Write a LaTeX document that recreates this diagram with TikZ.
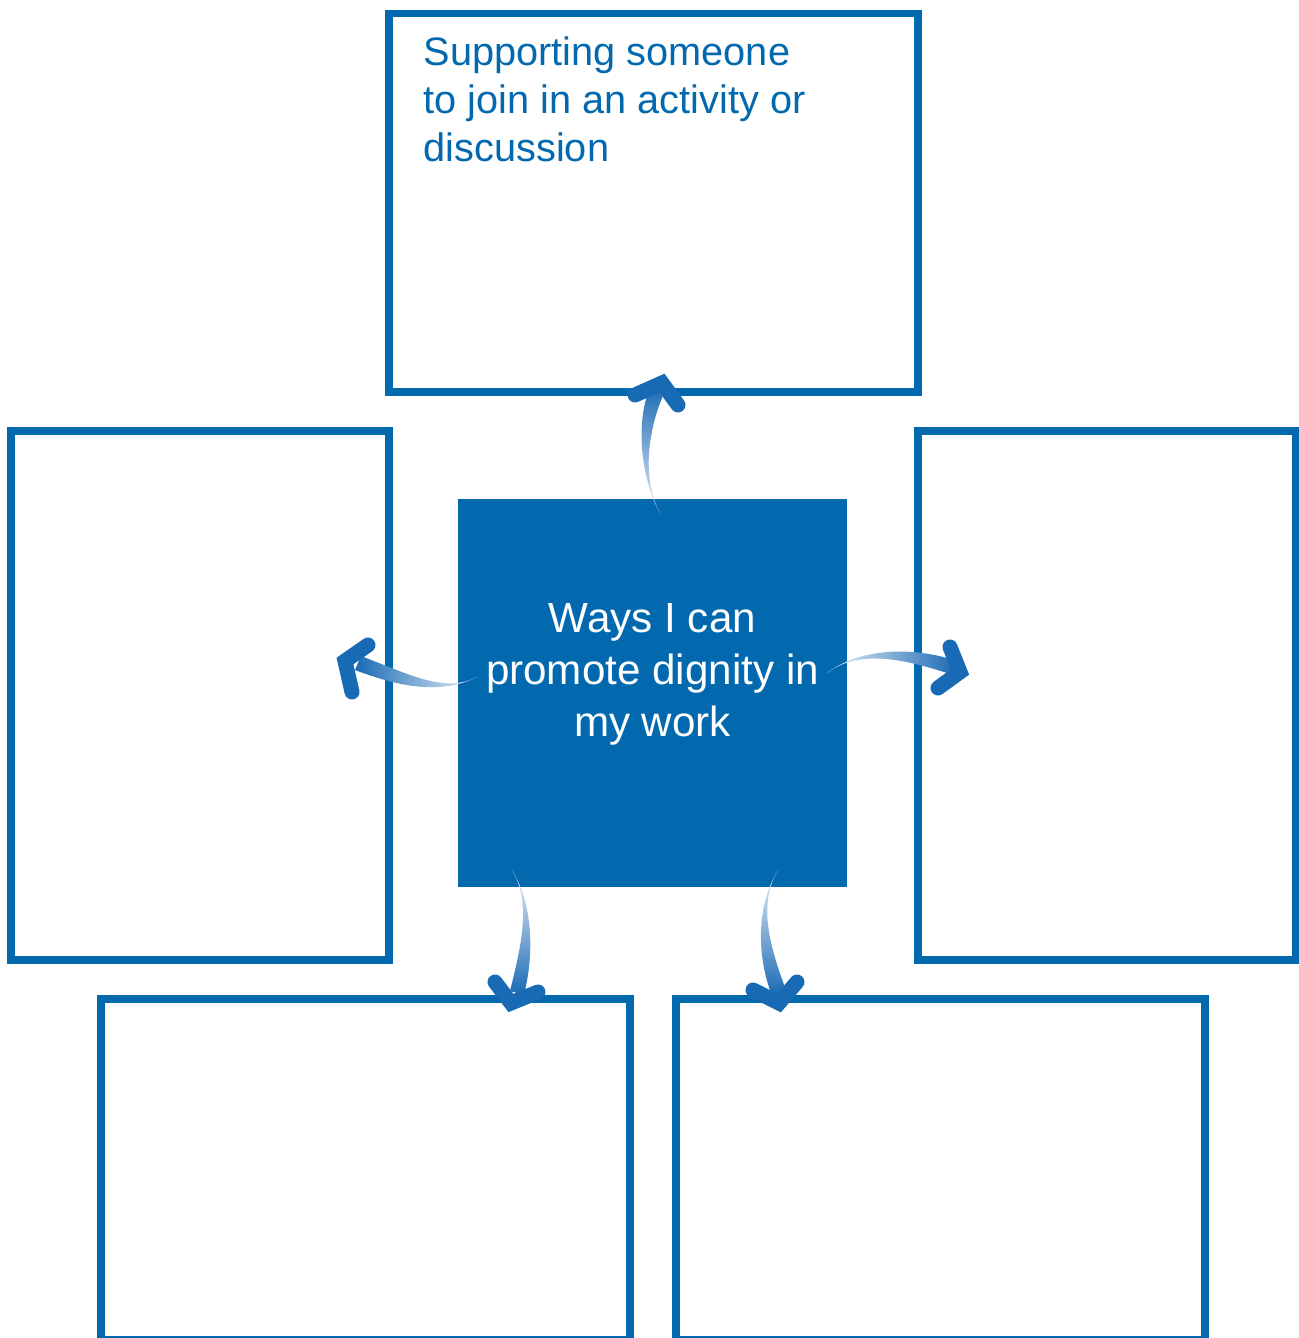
\documentclass[tikz,border=0pt]{standalone}
\usepackage{fontspec}
\setmainfont{Liberation Sans}
\usetikzlibrary{calc}
\definecolor{dignity}{RGB}{3,105,175}
\definecolor{arrowblue}{RGB}{25,106,180}
\definecolor{arrowpale}{RGB}{234,239,248}
\tikzset{
  answer/.style={draw=dignity, line width=0.075cm, fill=white, inner sep=0pt},
  hubbox/.style={fill=dignity, inner sep=0pt, minimum width=3.89cm, minimum height=3.88cm},
  arrowhead/.style={draw=arrowblue, line width=0.15cm, line cap=round, line join=miter},
}

\begin{document}
\begin{tikzpicture}
\useasboundingbox (0,0) rectangle (12.99,13.38);
\node[answer, minimum width=5.29cm, minimum height=3.785cm] (topbox) at (6.535,11.3525) {};
\node[answer, minimum width=3.78cm, minimum height=5.29cm] (leftbox) at (2.00,6.425) {};
\node[answer, minimum width=3.775cm, minimum height=5.29cm] (rightbox) at (11.0675,6.425) {};
\node[answer, minimum width=5.29cm, minimum height=3.41cm] (lowleftbox) at (3.655,1.685) {};
\node[answer, minimum width=5.29cm, minimum height=3.41cm] (lowrightbox) at (9.405,1.685) {};
\node[hubbox] (hub) at (6.525,6.45) {};
\node[anchor=north west, inner sep=0pt, align=left, text=dignity,
  font=\fontsize{11.3pt}{13.6pt}\selectfont] (toptext) at (4.23,13.02)
  {Supporting someone\\to join in an activity or\\discussion};
\node[anchor=north, inner sep=0pt, align=center, text=white,
  font=\fontsize{12pt}{14.7pt}\selectfont] (hubtext) at (6.525,7.35)
  {Ways I can\\promote dignity in\\my work};
\coordinate (uptail) at (6.61,8.23);
\coordinate (uptip) at (6.62,9.55);
\coordinate (lefttail) at (4.77,6.61);
\coordinate (lefttip) at (3.45,6.77);
\coordinate (righttail) at (8.27,6.65);
\coordinate (righttip) at (9.60,6.66);
\coordinate (downltail) at (5.12,4.68);
\coordinate (downltip) at (5.11,3.35);
\coordinate (downrtail) at (7.78,4.68);
\coordinate (downrtip) at (7.79,3.35);
\shade[bottom color=arrowpale, top color=arrowblue] (uptail) .. controls (6.40,8.60) and (6.35,9.18) .. (6.51,9.53)
  -- (6.65,9.47) .. controls (6.49,9.12) and (6.40,8.60) .. (uptail);
\draw[arrowhead] (6.35,9.43) -- (uptip) -- (6.78,9.33);
\shade[right color=arrowpale, left color=arrowblue] (lefttail) .. controls (4.45,6.45) and (4.13,6.62) .. (3.61,6.82)
  -- (3.55,6.68) .. controls (4.07,6.48) and (4.45,6.45) .. (lefttail);
\draw[arrowhead] (3.68,6.93) -- (lefttip) -- (3.52,6.46);
\shade[left color=arrowpale, right color=arrowblue] (righttail) .. controls (8.60,6.90) and (9.12,6.92) .. (9.57,6.77)
  -- (9.53,6.63) .. controls (9.08,6.78) and (8.60,6.90) .. (righttail);
\draw[arrowhead] (9.50,6.91) -- (righttip) -- (9.38,6.50);
\shade[top color=arrowpale, bottom color=arrowblue] (downltail) .. controls (5.32,4.35) and (5.35,3.88) .. (5.24,3.43)
  -- (5.10,3.47) .. controls (5.21,3.92) and (5.32,4.35) .. (downltail);
\draw[arrowhead] (4.95,3.56) -- (downltip) -- (5.38,3.46);
\shade[top color=arrowpale, bottom color=arrowblue] (downrtail) .. controls (7.58,4.35) and (7.69,3.93) .. (7.86,3.48)
  -- (7.72,3.42) .. controls (7.55,3.87) and (7.58,4.35) .. (downrtail);
\draw[arrowhead] (7.53,3.48) -- (downrtip) -- (7.97,3.56);
\end{tikzpicture}
\end{document}
